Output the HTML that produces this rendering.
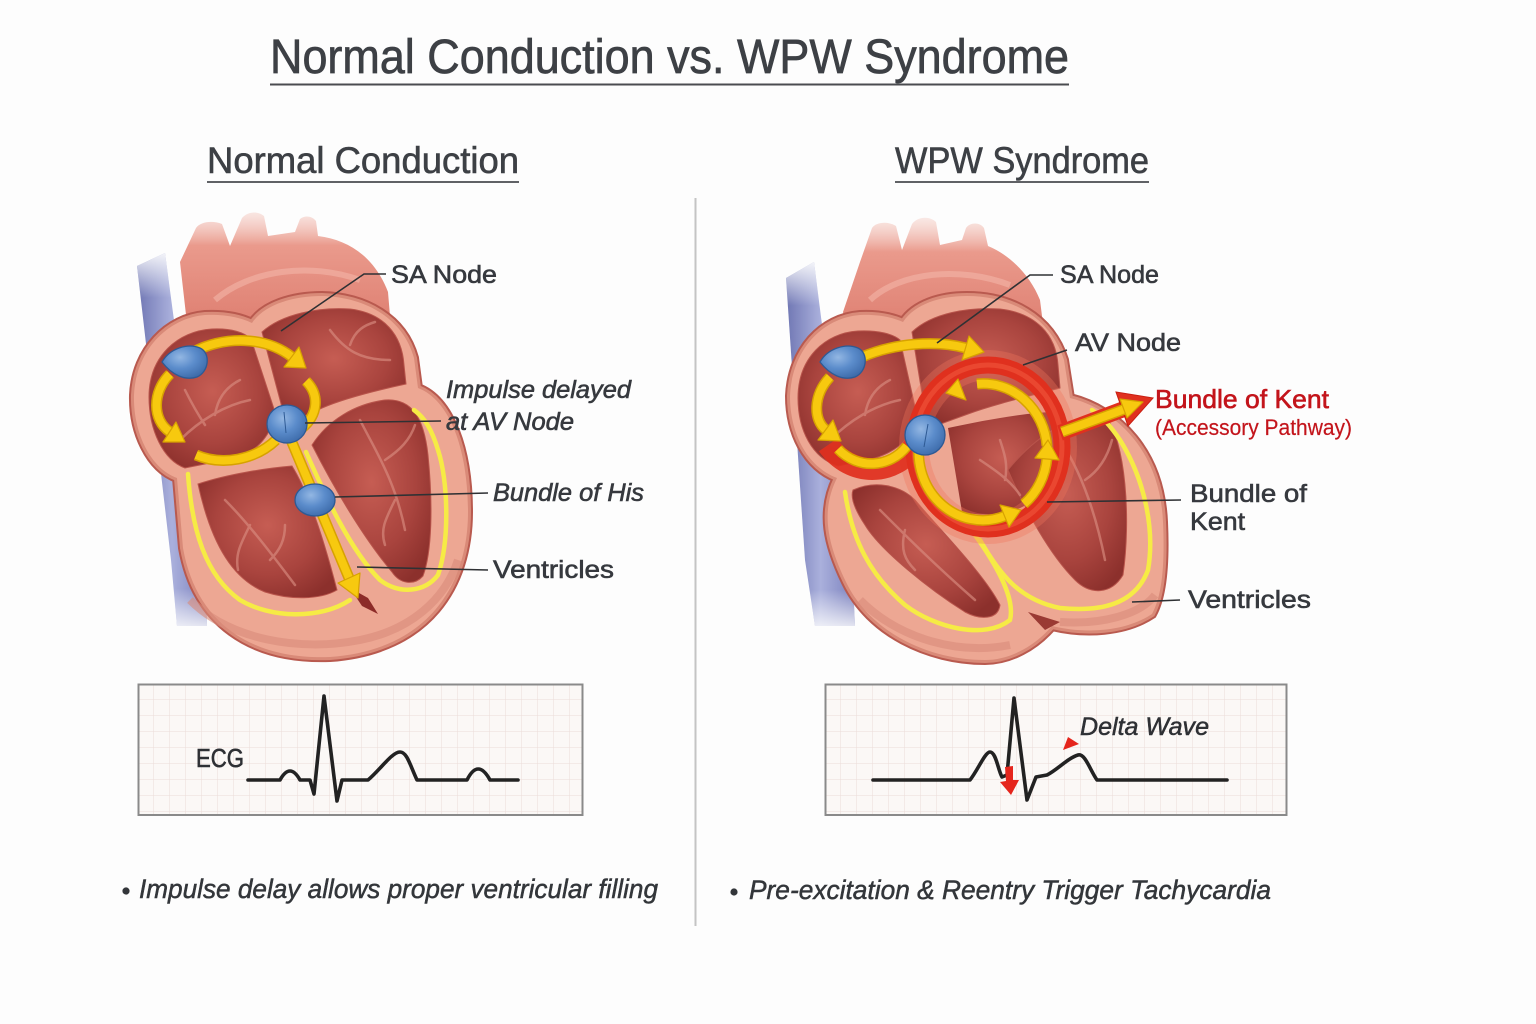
<!DOCTYPE html>
<html><head><meta charset="utf-8"><style>
html,body{margin:0;padding:0;background:#fdfdfd;}
svg{display:block;}
text{font-family:"Liberation Sans",sans-serif;}
</style></head><body>
<svg width="1536" height="1024" viewBox="0 0 1536 1024" xmlns="http://www.w3.org/2000/svg">
<defs>
  <radialGradient id="ch" cx="0.5" cy="0.45" r="0.62">
    <stop offset="0" stop-color="#c65d53"/>
    <stop offset="0.6" stop-color="#a9443e"/>
    <stop offset="1" stop-color="#8c302c"/>
  </radialGradient>
  <radialGradient id="blue" cx="0.4" cy="0.35" r="0.7">
    <stop offset="0" stop-color="#93b7e3"/>
    <stop offset="0.5" stop-color="#5b8ccb"/>
    <stop offset="1" stop-color="#3c6aa9"/>
  </radialGradient>
  <linearGradient id="vein" x1="0" y1="0" x2="1" y2="0">
    <stop offset="0" stop-color="#6f76b3"/>
    <stop offset="0.5" stop-color="#aab0dc"/>
    <stop offset="1" stop-color="#7a80bd"/>
  </linearGradient>
  <linearGradient id="veinfade" x1="0" y1="0" x2="0" y2="1">
    <stop offset="0" stop-color="#fdfdfd" stop-opacity="0.9"/>
    <stop offset="0.12" stop-color="#fdfdfd" stop-opacity="0"/>
    <stop offset="0.9" stop-color="#fdfdfd" stop-opacity="0"/>
    <stop offset="1" stop-color="#fdfdfd" stop-opacity="0.8"/>
  </linearGradient>
  <linearGradient id="aortaL" gradientUnits="userSpaceOnUse" x1="0" y1="205" x2="0" y2="340">
    <stop offset="0" stop-color="#f6d2ca" stop-opacity="0.3"/>
    <stop offset="0.3" stop-color="#ea9a8c"/>
    <stop offset="1" stop-color="#dc7a6c"/>
  </linearGradient>
  <linearGradient id="aortaR" gradientUnits="userSpaceOnUse" x1="0" y1="212" x2="0" y2="345">
    <stop offset="0" stop-color="#f6d2ca" stop-opacity="0.3"/>
    <stop offset="0.3" stop-color="#ea9a8c"/>
    <stop offset="1" stop-color="#dc7a6c"/>
  </linearGradient>
  <pattern id="gridL" width="16" height="16" patternUnits="userSpaceOnUse" x="138" y="684">
    <path d="M16 0V16M0 16H16" stroke="#ebdcd8" stroke-width="1" fill="none"/>
  </pattern>
  <pattern id="gridR" width="16" height="16" patternUnits="userSpaceOnUse" x="825" y="684">
    <path d="M16 0V16M0 16H16" stroke="#ebdcd8" stroke-width="1" fill="none"/>
  </pattern>
</defs>

<rect width="1536" height="1024" fill="#fdfdfd"/>

<!-- Titles -->
<text x="270" y="73" font-size="48" textLength="799" lengthAdjust="spacingAndGlyphs" fill="#3d4045" stroke="#3d4045" stroke-width="0.7">Normal Conduction vs. WPW Syndrome</text>
<line x1="270" y1="84.5" x2="1069" y2="84.5" stroke="#4a4c50" stroke-width="2"/>
<text x="207" y="173" font-size="37" textLength="312" lengthAdjust="spacingAndGlyphs" fill="#3d4045" stroke="#3d4045" stroke-width="0.6">Normal Conduction</text>
<line x1="207" y1="182" x2="519" y2="182" stroke="#4a4c50" stroke-width="1.8"/>
<text x="895" y="173" font-size="37" textLength="254" lengthAdjust="spacingAndGlyphs" fill="#3d4045" stroke="#3d4045" stroke-width="0.6">WPW Syndrome</text>
<line x1="895" y1="182" x2="1149" y2="182" stroke="#4a4c50" stroke-width="1.8"/>

<!-- Divider -->
<line x1="695.5" y1="198" x2="695.5" y2="926" stroke="#c4c4c4" stroke-width="2"/>

<!-- ================= LEFT HEART ================= -->
<g>
  <path d="M137 266 L165 253 L206 560 L207 626 L177 626 L171 560 Z" fill="url(#vein)"/>
  <path d="M137 266 L165 253 L206 560 L207 626 L177 626 L171 560 Z" fill="url(#veinfade)"/>
  <path d="M180 262 L196 228 C200 222 212 220 222 224 L230 246 L242 218 C248 211 258 211 264 216 L268 236 L295 232 L300 219 C305 215 312 216 316 221 L318 236 C350 240 375 258 388 292 L392 340 L190 350 Z" fill="url(#aortaL)"/>
  <path d="M215 300 C250 270 310 262 360 280" stroke="#f3b5a8" stroke-width="6" fill="none" opacity="0.6"/>
  <!-- outer -->
  <path d="M177 478 C150 468 133 432 134 395 C136 350 168 318 205 315 C226 314 242 318 252 323 C264 305 292 296 322 296 C365 297 403 318 414 358 L418 388 C450 400 468 450 468 512 C468 585 428 650 330 657 C250 660 196 622 183 548 Z" fill="#eda793" stroke="#b95a4f" stroke-width="10"/>
  <path d="M177 478 C150 468 133 432 134 395 C136 350 168 318 205 315 C226 314 242 318 252 323 C264 305 292 296 322 296 C365 297 403 318 414 358 L418 388 C450 400 468 450 468 512 C468 585 428 650 330 657 C250 660 196 622 183 548 Z" fill="#eda793" stroke="#d98a78" stroke-width="6"/>
  <path d="M177 478 C150 468 133 432 134 395 C136 350 168 318 205 315 C226 314 242 318 252 323 C264 305 292 296 322 296 C365 297 403 318 414 358 L418 388 C450 400 468 450 468 512 C468 585 428 650 330 657 C250 660 196 622 183 548 Z" fill="#eda793"/>
  <path d="M190 600 C230 640 300 652 360 640 C410 630 445 600 458 560" stroke="#d98b7a" stroke-width="8" fill="none" opacity="0.6"/>
  <!-- chambers -->
  <path d="M149 397 C149 356 178 331 212 329 C232 328 245 333 251 339 L276 415 C268 440 255 452 235 458 L185 468 C163 460 149 430 149 397 Z" fill="url(#ch)" stroke="#b8544b" stroke-width="1"/>
  <path d="M262 332 C282 314 318 307 350 309 C384 313 402 335 404 365 L406 384 C378 390 345 398 322 408 L296 420 L284 415 Z" fill="url(#ch)" stroke="#b8544b" stroke-width="1"/>
  <path d="M312 445 C328 420 355 404 385 400 C412 398 424 418 428 455 C433 505 432 552 423 576 C414 586 400 584 392 572 C365 540 335 490 312 445 Z" fill="url(#ch)" stroke="#b8544b" stroke-width="1"/>
  <path d="M198 484 C228 474 268 468 292 466 C308 492 324 540 337 590 C320 600 290 600 265 592 C235 580 212 548 198 484 Z" fill="url(#ch)" stroke="#b8544b" stroke-width="1"/>
  <path d="M350 588 L362 606 L378 614 L368 598 Z" fill="#8c2b28"/>
  <!-- vessels -->
  <g stroke="#d98c80" stroke-width="2.5" fill="none" opacity="0.65" stroke-linecap="round">
    <path d="M180 440 C200 420 225 405 250 400 M215 415 C218 395 230 385 240 380 M205 425 C195 410 190 400 185 390"/>
    <path d="M330 330 C345 350 360 360 390 360 M350 345 C355 330 365 325 375 322"/>
    <path d="M225 500 C245 520 265 545 295 585 M250 525 C240 545 235 555 238 570 M270 560 C280 550 285 540 285 525"/>
    <path d="M360 420 C375 450 395 480 405 530 M385 460 C400 450 410 440 415 425 M395 500 C385 520 380 530 385 545"/>
  </g>
  <!-- purkinje -->
  <g stroke="#f6eb45" stroke-width="4.5" fill="none" stroke-linecap="round">
    <path d="M188 474 C192 530 205 575 240 600 C270 618 320 620 350 600"/>
    <path d="M306 452 C325 495 350 550 380 580 C400 595 425 592 438 575 C450 540 448 480 438 450 C432 430 425 418 414 410"/>
  </g>
  <!-- yellow arrows -->
  <g fill="none" stroke-linecap="butt">
    <g stroke="#d7a200" stroke-width="11">
      <path d="M193 352 C225 336 265 336 292 357"/>
      <path d="M170 374 C152 392 152 420 170 432"/>
      <path d="M306 381 C320 395 318 415 302 428"/>
      <path d="M276 440 C255 460 222 466 196 455"/>
      <path d="M291 440 L349 578"/>
    </g>
    <g stroke="#f7c90f" stroke-width="8">
      <path d="M193 352 C225 336 265 336 292 357"/>
      <path d="M170 374 C152 392 152 420 170 432"/>
      <path d="M306 381 C320 395 318 415 302 428"/>
      <path d="M276 440 C255 460 222 466 196 455"/>
      <path d="M291 440 L349 578"/>
    </g>
  </g>
  <g fill="#f7c90f" stroke="#d7a200" stroke-width="1.2" stroke-linejoin="round">
    <polygon points="306,368 284,367 299,347"/>
    <polygon points="185,442 163,442 176,422"/>
    <polygon points="358,598 338,583 360,573"/>
  </g>
  <!-- nodes -->
  <g fill="url(#blue)" stroke="#2e5a94" stroke-width="1.3">
    <path d="M162 362 C170 348 188 343 200 348 C211 353 209 372 197 377 C185 381 172 375 162 362 Z"/>
    <ellipse cx="287" cy="424" rx="20" ry="19"/>
    <ellipse cx="315" cy="500" rx="20" ry="16"/>
  </g>
  <path d="M284 412 L286 433" stroke="#2e5a94" stroke-width="1"/>
  <!-- leader lines -->
  <g stroke="#2f3134" stroke-width="1.6" fill="none">
    <polyline points="281,331 364,274 386,274"/>
    <line x1="305" y1="423" x2="441" y2="421"/>
    <line x1="335" y1="497" x2="488" y2="493"/>
    <line x1="357" y1="567" x2="488" y2="570"/>
  </g>
</g>

<!-- Left labels -->
<g fill="#36393e" stroke="#36393e" stroke-width="0.6" font-size="25">
  <text x="391" y="283" textLength="106" lengthAdjust="spacingAndGlyphs">SA Node</text>
  <text x="446" y="398" textLength="185" lengthAdjust="spacingAndGlyphs" font-style="italic">Impulse delayed</text>
  <text x="446" y="430" textLength="128" lengthAdjust="spacingAndGlyphs" font-style="italic">at AV Node</text>
  <text x="493" y="501" textLength="151" lengthAdjust="spacingAndGlyphs" font-style="italic">Bundle of His</text>
  <text x="493" y="578" textLength="121" lengthAdjust="spacingAndGlyphs">Ventricles</text>
</g>

<!-- ================= RIGHT HEART ================= -->
<g>
  <path d="M786 278 L814 262 L852 560 L855 626 L815 626 L805 560 Z" fill="url(#vein)"/>
  <path d="M786 278 L814 262 L852 560 L855 626 L815 626 L805 560 Z" fill="url(#veinfade)"/>
  <path d="M843 312 L860 262 L872 228 C876 222 888 221 896 226 L902 250 L912 224 C918 216 930 216 936 222 L940 245 L962 240 L966 228 C970 222 980 222 984 228 L988 246 C1010 255 1030 275 1040 300 L1045 340 L850 355 Z" fill="url(#aortaR)"/>
  <path d="M870 300 C900 272 960 266 1010 285" stroke="#f3b5a8" stroke-width="6" fill="none" opacity="0.6"/>
  <path d="M837 478 C806 466 790 432 790 396 C792 350 822 318 860 315 C880 314 894 318 903 322 C915 304 940 296 967 296 C1010 296 1050 316 1064 360 L1070 398 C1118 410 1160 452 1163 522 C1165 565 1162 596 1152 614 C1125 632 1085 634 1052 626 C1035 646 1010 660 985 660 C928 660 870 632 846 582 C828 545 820 512 837 478 Z" fill="#eda793" stroke="#b95a4f" stroke-width="10"/>
  <path d="M837 478 C806 466 790 432 790 396 C792 350 822 318 860 315 C880 314 894 318 903 322 C915 304 940 296 967 296 C1010 296 1050 316 1064 360 L1070 398 C1118 410 1160 452 1163 522 C1165 565 1162 596 1152 614 C1125 632 1085 634 1052 626 C1035 646 1010 660 985 660 C928 660 870 632 846 582 C828 545 820 512 837 478 Z" fill="#eda793" stroke="#d98a78" stroke-width="6"/>
  <path d="M837 478 C806 466 790 432 790 396 C792 350 822 318 860 315 C880 314 894 318 903 322 C915 304 940 296 967 296 C1010 296 1050 316 1064 360 L1070 398 C1118 410 1160 452 1163 522 C1165 565 1162 596 1152 614 C1125 632 1085 634 1052 626 C1035 646 1010 660 985 660 C928 660 870 632 846 582 C828 545 820 512 837 478 Z" fill="#eda793"/>
  <path d="M860 600 C900 640 960 655 1010 645 M1060 622 C1100 625 1140 615 1155 595" stroke="#d98b7a" stroke-width="8" fill="none" opacity="0.6"/>
  <path d="M1028 612 L1045 630 L1060 622 Z" fill="#9a3a33"/>
  <!-- chambers -->
  <path d="M798 398 C798 358 825 333 858 331 C878 330 893 334 900 340 L918 420 C910 440 895 452 875 458 L838 466 C812 458 798 430 798 398 Z" fill="url(#ch)" stroke="#b8544b" stroke-width="1"/>
  <path d="M912 332 C932 313 968 307 1000 309 C1036 313 1056 335 1058 365 L1060 388 C1030 396 995 404 968 414 L938 425 L926 418 Z" fill="url(#ch)" stroke="#b8544b" stroke-width="1"/>
  <path d="M948 428 C985 420 1030 412 1056 412 L1058 470 C1040 510 1000 520 962 512 Z" fill="url(#ch)"/>
  <path d="M853 490 C875 480 900 485 915 500 C940 530 985 575 1000 605 C998 620 980 620 965 612 C930 590 880 550 865 525 C855 510 850 498 853 490 Z" fill="url(#ch)" stroke="#b8544b" stroke-width="1"/>
  <path d="M1008 470 C1040 430 1080 412 1105 416 C1126 440 1131 520 1123 575 C1111 595 1090 595 1075 580 C1050 555 1025 510 1008 470 Z" fill="url(#ch)" stroke="#b8544b" stroke-width="1"/>
  <g stroke="#d98c80" stroke-width="2.5" fill="none" opacity="0.65" stroke-linecap="round">
    <path d="M830 440 C850 420 875 405 900 400 M865 415 C868 395 880 385 890 380"/>
    <path d="M880 510 C905 535 935 565 975 600 M905 530 C900 550 905 560 915 570"/>
    <path d="M1060 440 C1080 470 1095 510 1105 560 M1085 480 C1100 470 1108 455 1112 440"/>
    <path d="M980 460 C995 470 1010 480 1020 495 M1000 440 C1005 455 1008 465 1005 480"/>
  </g>
  <!-- purkinje -->
  <g stroke="#f6eb45" stroke-width="4.5" fill="none" stroke-linecap="round">
    <path d="M845 492 C852 540 870 575 905 605 C935 628 985 640 1010 620 C1015 600 1000 570 975 535"/>
    <path d="M980 540 C1000 575 1020 600 1060 608 C1100 612 1135 605 1148 570 C1155 530 1145 480 1120 440 C1110 425 1100 415 1092 410"/>
  </g>
  <!-- red pathways -->
  <ellipse cx="988" cy="447" rx="74" ry="82" fill="none" stroke="#f0755c" stroke-width="30" opacity="0.35"/>
  <path d="M828 445 C850 477 895 477 915 445" stroke="#e0301e" stroke-width="22" fill="none" opacity="0.92"/>
  <ellipse cx="988" cy="447" rx="74" ry="82" fill="none" stroke="#e0301e" stroke-width="17"/>
  <ellipse cx="988" cy="447" rx="74" ry="82" fill="none" stroke="#f0563c" stroke-width="5" opacity="0.6"/>
  <!-- Kent arrow red -->
  <line x1="1060" y1="433" x2="1124" y2="409" stroke="#e0301e" stroke-width="16"/>
  <polygon points="1153,398 1128,426 1116,392" fill="#e0301e" stroke="#c91e12" stroke-width="1"/>
  <!-- yellow arrows -->
  <g fill="none">
    <g stroke="#d7a200" stroke-width="11">
      <path d="M862 357 C895 343 935 340 966 348"/>
      <path d="M830 377 C813 395 813 420 826 430"/>
      <path d="M838 449 C858 470 890 468 907 446"/>
      <path d="M921 434 A64 68 0 0 0 1005 516"/>
      <path d="M1024 504 A64 68 0 0 0 1047 458"/>
      <path d="M1047 446 A64 68 0 0 0 977 384"/>
      <line x1="1062" y1="432" x2="1125" y2="409"/>
    </g>
    <g stroke="#f7c90f" stroke-width="8">
      <path d="M862 357 C895 343 935 340 966 348"/>
      <path d="M830 377 C813 395 813 420 826 430"/>
      <path d="M838 449 C858 470 890 468 907 446"/>
      <path d="M921 434 A64 68 0 0 0 1005 516"/>
      <path d="M1024 504 A64 68 0 0 0 1047 458"/>
      <path d="M1047 446 A64 68 0 0 0 977 384"/>
      <line x1="1062" y1="432" x2="1125" y2="409"/>
    </g>
  </g>
  <g fill="#f7c90f" stroke="#d7a200" stroke-width="1.2" stroke-linejoin="round">
    <polygon points="984,352 962,360 969,336"/>
    <polygon points="841,441 818,440 833,420"/>
    <polygon points="1021,510 1009,527 1000,505"/>
    <polygon points="1048,440 1059,460 1035,458"/>
    <polygon points="946,393 966,400 958,379"/>
    <polygon points="1143,402 1127,418 1120,399"/>
  </g>
  <!-- nodes -->
  <g fill="url(#blue)" stroke="#2e5a94" stroke-width="1.3">
    <path d="M820 362 C828 348 846 343 858 348 C869 353 867 372 855 377 C843 381 830 375 820 362 Z"/>
    <ellipse cx="925" cy="435" rx="20" ry="20"/>
  </g>
  <path d="M928 424 L924 447" stroke="#2e5a94" stroke-width="1"/>
  <!-- leader lines -->
  <g stroke="#2f3134" stroke-width="1.6" fill="none">
    <polyline points="937,343 1030,275 1053,275"/>
    <line x1="1023" y1="365" x2="1067" y2="350"/>
    <line x1="1047" y1="502" x2="1181" y2="500"/>
    <line x1="1132" y1="602" x2="1180" y2="600"/>
  </g>
</g>

<!-- Right labels -->
<g fill="#36393e" stroke="#36393e" stroke-width="0.6" font-size="25">
  <text x="1060" y="283" textLength="99" lengthAdjust="spacingAndGlyphs">SA Node</text>
  <text x="1075" y="351" textLength="106" lengthAdjust="spacingAndGlyphs">AV Node</text>
  <text x="1190" y="502" textLength="117" lengthAdjust="spacingAndGlyphs">Bundle of</text>
  <text x="1190" y="530" textLength="55" lengthAdjust="spacingAndGlyphs">Kent</text>
  <text x="1188" y="608" textLength="123" lengthAdjust="spacingAndGlyphs">Ventricles</text>
</g>
<text x="1155" y="408" font-size="26" textLength="174" lengthAdjust="spacingAndGlyphs" fill="#c3141b" stroke="#c3141b" stroke-width="0.6">Bundle of Kent</text>
<text x="1155" y="435" font-size="22" textLength="197" lengthAdjust="spacingAndGlyphs" fill="#c3141b" stroke="#c3141b" stroke-width="0.2">(Accessory Pathway)</text>

<!-- ECG left -->
<rect x="138.5" y="684.5" width="444" height="130.5" fill="#fbf8f6"/>
<rect x="138.5" y="684.5" width="444" height="130.5" fill="url(#gridL)"/>
<rect x="138.5" y="684.5" width="444" height="130.5" fill="none" stroke="#8a8a8a" stroke-width="2"/>
<text x="196" y="767" font-size="26" textLength="48" lengthAdjust="spacingAndGlyphs" fill="#2e3034" stroke="#2e3034" stroke-width="0.6">ECG</text>
<path d="M248 780 L280 780 Q290 762 300 780 L310 780 L314 794 L324 696 L337 801 L342 780 L368 780 C380 770 392 752 400 752 C407 752 410 765 417 780 L467 780 Q478 758 490 780 L518 780" fill="none" stroke="#222" stroke-width="3.6" stroke-linejoin="round" stroke-linecap="round"/>

<!-- ECG right -->
<rect x="825.5" y="684.5" width="461" height="130.5" fill="#fbf8f6"/>
<rect x="825.5" y="684.5" width="461" height="130.5" fill="url(#gridR)"/>
<rect x="825.5" y="684.5" width="461" height="130.5" fill="none" stroke="#8a8a8a" stroke-width="2"/>
<path d="M873 780 L970 780 C978 770 985 752 990 752 C996 752 998 770 1002 777 L1007 775 L1014 698 L1027 800 L1036 777 L1047 775 C1057 770 1068 758 1078 755 C1085 753 1090 770 1097 780 L1227 780" fill="none" stroke="#222" stroke-width="3.6" stroke-linejoin="round" stroke-linecap="round"/>
<polygon points="1005,767 1013,766 1013,780 1019,780 1011,795 1000,782 1006,781" fill="#e5251c"/>
<polygon points="1063,750 1079,744 1068,737" fill="#e5251c"/>
<text x="1080" y="735" font-size="25" font-style="italic" textLength="129" lengthAdjust="spacingAndGlyphs" fill="#2e3034" stroke="#2e3034" stroke-width="0.5">Delta Wave</text>

<!-- Bullets -->
<circle cx="126" cy="891" r="3.6" fill="#33363a"/>
<text x="139" y="898" font-size="27" font-style="italic" textLength="519" lengthAdjust="spacingAndGlyphs" fill="#33363a" stroke="#33363a" stroke-width="0.5">Impulse delay allows proper ventricular filling</text>
<circle cx="734" cy="892" r="3.6" fill="#33363a"/>
<text x="749" y="899" font-size="27" font-style="italic" textLength="522" lengthAdjust="spacingAndGlyphs" fill="#33363a" stroke="#33363a" stroke-width="0.5">Pre-excitation &amp; Reentry Trigger Tachycardia</text>
</svg>
</body></html>
